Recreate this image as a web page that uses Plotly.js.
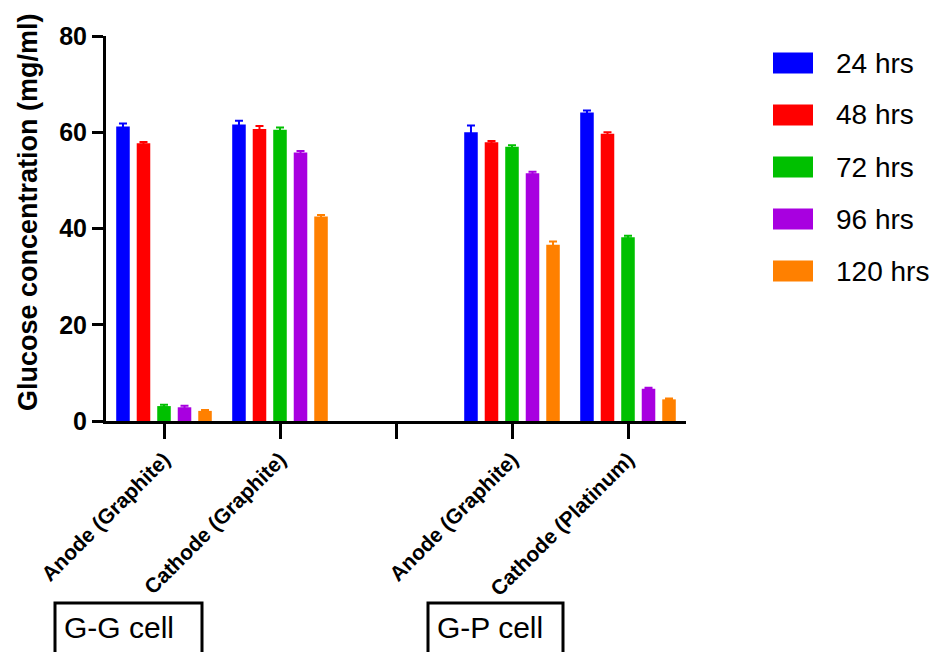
<!DOCTYPE html>
<html>
<head>
<meta charset="utf-8">
<script src="https://cdn.plot.ly/plotly-3.0.1.min.js"></script>
<style>html,body{margin:0;padding:0;background:#fff;}#chart{width:943px;height:652px;}</style>
</head>
<body>
<div id="chart"></div>
<script>
// Category positions (index 2 is the empty gap between the two cells)
const tickPositions = [0, 1, 2, 3, 4];
const tickLabels = ["Anode (Graphite)", "Cathode (Graphite)", "", "Anode (Graphite)", "Cathode (Platinum)"];
const barPositions = [0, 1, 3, 4];

const seriesNames = ["24 hrs", "48 hrs", "72 hrs", "96 hrs", "120 hrs"];
const seriesColors = ["#0000FF", "#FF0000", "#00C000", "#A800E0", "#FF8000"];

// Glucose concentration (mg/ml) per group: [Anode GG, Cathode GG, Anode GP, Cathode Pt]
const hrs24 = [61.2, 61.6, 60.0, 64.1];
const hrs48 = [57.7, 60.7, 57.9, 59.7];
const hrs72 = [3.1, 60.5, 57.0, 38.2];
const hrs96 = [2.85, 55.8, 51.5, 6.7];
const hrs120 = [2.1, 42.5, 36.6, 4.5];

// Error (SD)
const err24 = [0.6, 0.8, 1.4, 0.4];
const err48 = [0.3, 0.6, 0.3, 0.3];
const err72 = [0.3, 0.5, 0.3, 0.3];
const err96 = [0.3, 0.3, 0.3, 0.2];
const err120 = [0.2, 0.3, 0.7, 0.2];

const cellLabels = ["G-G cell", "G-P cell"];

const values = [hrs24, hrs48, hrs72, hrs96, hrs120];
const errors = [err24, err48, err72, err96, err120];

const traces = seriesNames.map((name, i) => ({
  type: 'bar',
  name: name,
  x: barPositions,
  y: values[i],
  marker: {color: seriesColors[i], line: {width: 0}},
  error_y: {type: 'data', array: errors[i], visible: true, color: seriesColors[i], thickness: 2, width: 4},
  showlegend: false,
  hoverinfo: 'x+y'
}));

// layout geometry (pixels)
const W = 943, H = 652;
const mL = 106, mR = 257, mT = 36, mB = 231;
const pw = W - mL - mR, ph = H - mT - mB;
const px = v => (v - mL) / pw;
const py = v => (H - mB - v) / ph;

const font = "Liberation Sans, Arial, Helvetica, sans-serif";

const shapes = [];
const annotations = [];

// custom legend built from series arrays
seriesNames.forEach((name, i) => {
  const cy = 63 + i * 52;
  shapes.push({type: 'rect', xref: 'paper', yref: 'paper',
    x0: px(773), x1: px(813), y0: py(cy - 10.5), y1: py(cy + 10.5),
    fillcolor: seriesColors[i], line: {width: 0}});
  annotations.push({xref: 'paper', yref: 'paper', x: px(834), y: py(cy), xanchor: 'left', yanchor: 'middle',
    text: name, showarrow: false, font: {family: font, size: 28, color: '#000'}});
});

// cell boxes
const boxes = [[55, 202], [428, 563]];
boxes.forEach((b, i) => {
  shapes.push({type: 'rect', xref: 'paper', yref: 'paper',
    x0: px(b[0]), x1: px(b[1]), y0: py(603), y1: py(690),
    line: {color: '#000', width: 3}, fillcolor: 'rgba(0,0,0,0)'});
  annotations.push({xref: 'paper', yref: 'paper', x: px(b[0] + 7), y: py(627), xanchor: 'left', yanchor: 'middle',
    text: cellLabels[i], showarrow: false, font: {family: font, size: 30, color: '#000'}});
});

// y axis title
annotations.push({xref: 'paper', yref: 'paper', x: px(28), y: py(212), xanchor: 'center', yanchor: 'middle',
  text: '<b>Glucose concentration (mg/ml)</b>', textangle: -90, showarrow: false,
  font: {family: font, size: 27, color: '#000'}});

const layout = {
  width: W, height: H,
  margin: {l: mL, r: mR, t: mT, b: mB, pad: 0},
  paper_bgcolor: '#fff', plot_bgcolor: '#fff',
  barmode: 'group', bargap: 0.116, bargroupgap: 0.34,
  font: {family: font, color: '#000'},
  xaxis: {
    range: [-0.5, 4.5], tickmode: 'array', tickvals: tickPositions, ticktext: tickLabels,
    tickangle: -45, ticks: 'outside', ticklen: 15, tickwidth: 3, tickcolor: '#000',
    showline: true, linecolor: '#000', linewidth: 3, showgrid: false, zeroline: false,
    tickfont: {family: font, size: 21, color: '#000', weight: 'bold'}
  },
  yaxis: {
    range: [0, 80], tickvals: [0, 20, 40, 60, 80], ticks: 'outside', ticklen: 11, tickwidth: 3, tickcolor: '#000',
    showline: true, linecolor: '#000', linewidth: 3, showgrid: false, zeroline: false,
    tickfont: {family: font, size: 25, color: '#000', weight: 'bold'}
  },
  shapes: shapes,
  annotations: annotations
};

Plotly.newPlot('chart', traces, layout, {displayModeBar: false, staticPlot: true});
</script>
</body>
</html>
